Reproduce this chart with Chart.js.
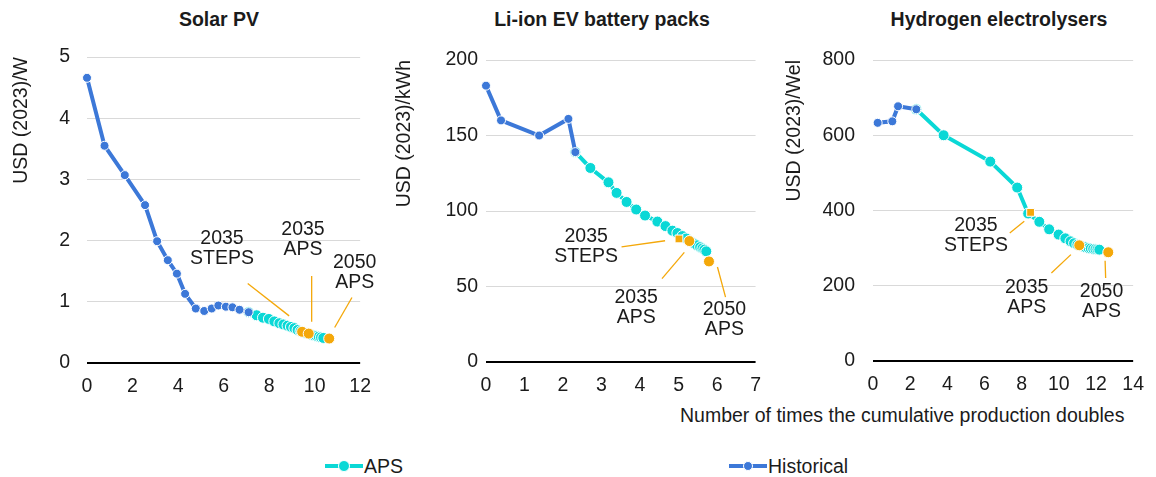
<!DOCTYPE html>
<html>
<head>
<meta charset="utf-8">
<script src="https://cdn.jsdelivr.net/npm/chart.js@4.4.1/dist/chart.umd.min.js"></script>
<style>
  body { margin: 0; background: #fff; width: 1156px; height: 477px; overflow: hidden; position: relative;
         font-family: "Liberation Sans", Arial, sans-serif; color: #1b1b1b; }
  canvas { position: absolute; top: 0; }
  .ttl { position: absolute; top: 8px; transform: translateX(-50%); font-weight: bold; font-size: 19.5px;
         line-height: 23px; white-space: nowrap; }
  .xttl { position: absolute; left: 680px; top: 404px; font-size: 19.5px; line-height: 23px; white-space: nowrap; }
  .lg { position: absolute; top: 455px; height: 23px; font-size: 19.5px; line-height: 23px; white-space: nowrap; }
  .lg .sym { position: absolute; left: 0; top: 9px; width: 38px; height: 4px; }
  .lg .dot { position: absolute; border-radius: 50%; border: 1px solid #fff; }
  .lg span { position: absolute; top: 0; }
</style>
</head>
<body>
<div class="ttl" style="left:219px">Solar PV</div>
<div class="ttl" style="left:602px">Li-ion EV battery packs</div>
<div class="ttl" style="left:999px">Hydrogen electrolysers</div>

<canvas id="solarChart" width="383" height="400" style="left:0px"></canvas>
<canvas id="batteryChart" width="390" height="400" style="left:383px"></canvas>
<canvas id="hydrogenChart" width="383" height="400" style="left:773px"></canvas>

<div class="xttl">Number of times the cumulative production doubles</div>

<div class="lg" style="left:325px">
  <div class="sym" style="background:#0ad8d6"></div>
  <div class="dot" style="background:#0ad8d6;width:10px;height:10px;left:13px;top:5px"></div>
  <span style="left:39px">APS</span>
</div>
<div class="lg" style="left:729px">
  <div class="sym" style="background:#3c78d8"></div>
  <div class="dot" style="background:#3c78d8;width:8px;height:8px;left:14px;top:6px"></div>
  <span style="left:39px">Historical</span>
</div>

<script>
// Solar PV, USD (2023)/W
const solarHistX = [0, 0.77, 1.66, 2.55, 3.08, 3.55, 3.95, 4.31, 4.78, 5.15, 5.48, 5.77, 6.10, 6.39, 6.70, 7.10];
const solarHistY = [4.66, 3.55, 3.07, 2.58, 1.99, 1.68, 1.46, 1.13, 0.89, 0.85, 0.89, 0.94, 0.92, 0.91, 0.87, 0.83];
const solarApsX = [7.10, 7.45, 7.73, 7.99, 8.23, 8.45, 8.63, 8.81, 8.96, 9.11, 9.25, 9.38, 9.50, 9.62, 9.74, 9.86, 9.97, 10.08, 10.18, 10.28, 10.38];
const solarApsY = [0.83, 0.78, 0.74, 0.72, 0.68, 0.65, 0.63, 0.61, 0.59, 0.57, 0.54, 0.52, 0.50, 0.49, 0.48, 0.46, 0.45, 0.44, 0.43, 0.42, 0.41];
const solarMarkX = [9.45, 9.74, 10.64];
const solarMarkY = [0.51, 0.48, 0.40];

// Li-ion EV battery packs, USD (2023)/kWh
const batHistX = [0, 0.39, 1.38, 2.14, 2.32];
const batHistY = [183, 160, 150, 161, 139];
const batApsX = [2.32, 2.71, 3.18, 3.39, 3.65, 3.90, 4.13, 4.45, 4.66, 4.84, 4.97, 5.10, 5.20, 5.30, 5.40, 5.48, 5.56, 5.62, 5.67, 5.72];
const batApsY = [139, 128.5, 119, 112, 106, 101, 97, 93, 90, 87, 85.4, 83.4, 81.8, 80.1, 78.5, 77.3, 76.1, 75.2, 74.4, 73.3];
const batMarkX = [5.01, 5.28, 5.79];
const batMarkY = [81.5, 80.1, 66.6];

// Hydrogen electrolysers, USD (2023)/Wel
const h2HistX = [0.25, 1.04, 1.35, 2.33];
const h2HistY = [633, 637, 677, 669];
const h2ApsX = [2.33, 3.80, 6.31, 7.76, 8.35, 8.95, 9.48, 9.99, 10.35, 10.63, 10.82, 11.0, 11.15, 11.3, 11.45, 11.6, 11.72, 11.85, 11.97, 12.08, 12.18];
const h2ApsY = [669, 600, 530, 461, 392, 370, 350, 336, 326, 318, 313, 309, 306, 304, 302, 300, 299, 298, 297, 296.5, 296];
const h2MarkX = [8.48, 11.1, 12.66];
const h2MarkY = [395, 307.5, 289];

const markLabels = [['2035', 'STEPS'], ['2035', 'APS'], ['2050', 'APS']];

const BLUE = '#3c78d8';
const CYAN = '#0ad8d6';
const ORANGE = '#f4a80a';
const TEXT = '#1b1b1b';
const FONT = { family: '"Liberation Sans", Arial, sans-serif', size: 19.5 };

function pairs(xs, ys) {
    return xs.map((x, i) => ({ x: x, y: ys[i] }));
}

// labels with orange leader lines, placed in data units
function notesPlugin(notes) {
    return {
        id: 'leaderNotes',
        afterDatasetsDraw(chart) {
            const { ctx, scales: { x, y } } = chart;
            ctx.save();
            notes.forEach((n, i) => {
                ctx.strokeStyle = ORANGE;
                ctx.lineWidth = 1.3;
                ctx.beginPath();
                ctx.moveTo(x.getPixelForValue(n.from[0]), y.getPixelForValue(n.from[1]));
                ctx.lineTo(x.getPixelForValue(n.to[0]), y.getPixelForValue(n.to[1]));
                ctx.stroke();

                const lines = markLabels[i];
                const px = x.getPixelForValue(n.at[0]);
                const py = y.getPixelForValue(n.at[1]);
                ctx.fillStyle = TEXT;
                ctx.font = FONT.size + 'px ' + FONT.family;
                ctx.textAlign = 'center';
                ctx.textBaseline = 'middle';
                lines.forEach((t, k) => ctx.fillText(t, px, py + (k - (lines.length - 1) / 2) * 20));
            });
            ctx.restore();
        }
    };
}

function createChart(id, cfg) {
    return new Chart(document.getElementById(id), {
        type: 'line',
        data: {
            datasets: [{
                label: 'APS',
                data: pairs(cfg.apsX, cfg.apsY),
                borderColor: CYAN,
                backgroundColor: CYAN,
                borderWidth: 4,
                pointRadius: 5.5,
                pointBorderColor: '#fff',
                pointBorderWidth: 1,
                clip: false,
                order: 2
            }, {
                label: 'Historical',
                data: pairs(cfg.histX, cfg.histY),
                borderColor: BLUE,
                backgroundColor: BLUE,
                borderWidth: 4,
                pointRadius: 4.5,
                pointBorderColor: '#fff',
                pointBorderWidth: 1,
                clip: false,
                order: 1
            }, {
                label: 'Milestones',
                data: pairs(cfg.markX, cfg.markY),
                showLine: false,
                backgroundColor: ORANGE,
                pointRadius: 5.5,
                pointStyle: cfg.markStyle,
                pointBorderColor: '#fff',
                pointBorderWidth: 1,
                clip: false,
                order: 0
            }]
        },
        options: {
            responsive: false,
            animation: false,
            layout: { padding: { top: cfg.top, right: cfg.right, left: 0, bottom: 0 } },
            plugins: { legend: { display: false }, tooltip: { enabled: false } },
            scales: {
                x: {
                    type: 'linear',
                    min: cfg.xRange[0], max: cfg.xRange[1],
                    grid: { display: false, drawTicks: false },
                    border: { display: false },
                    ticks: { stepSize: cfg.xStep, padding: 12, color: TEXT, font: FONT },
                    afterFit: s => { s.height = cfg.xH; }
                },
                y: {
                    min: cfg.yRange[0], max: cfg.yRange[1],
                    grid: {
                        drawTicks: false,
                        color: c => c.tick.value === 0 ? '#000' : '#d9d9d9',
                        lineWidth: c => c.tick.value === 0 ? 2 : 1
                    },
                    border: { display: false },
                    ticks: { stepSize: cfg.yStep, padding: cfg.tickPad, color: TEXT, font: FONT },
                    title: { display: true, text: cfg.yTitle, align: 'end', color: TEXT, font: FONT, padding: { top: 10, bottom: 0 } },
                    afterFit: s => { s.width = cfg.axisW; }
                }
            }
        },
        plugins: [notesPlugin(cfg.notes)]
    });
}

createChart('solarChart', {
    histX: solarHistX, histY: solarHistY, apsX: solarApsX, apsY: solarApsY,
    markX: solarMarkX, markY: solarMarkY, markStyle: ['circle', 'circle', 'circle'],
    xRange: [0, 12], xStep: 2, yRange: [0, 5], yStep: 1,
    yTitle: 'USD (2023)/W',
    top: 57, right: 16, xH: 37, axisW: 87, tickPad: 17,
    notes: [
        { at: [5.93, 1.87], from: [7.06, 1.30], to: [8.88, 0.77] },
        { at: [9.49, 2.02], from: [9.87, 1.42], to: [9.87, 0.675] },
        { at: [11.76, 1.47], from: [11.64, 1.07], to: [10.88, 0.58] }
    ]
});

createChart('batteryChart', {
    histX: batHistX, histY: batHistY, apsX: batApsX, apsY: batApsY,
    markX: batMarkX, markY: batMarkY, markStyle: ['rect', 'circle', 'circle'],
    xRange: [0, 7], xStep: 1, yRange: [0, 200], yStep: 50,
    yTitle: 'USD (2023)/kWh',
    top: 60, right: 16, xH: 38, axisW: 103, tickPad: 8,
    notes: [
        { at: [2.60, 76.2], from: [3.52, 76.2], to: [4.65, 80.3] },
        { at: [3.90, 36.1], from: [4.57, 55.2], to: [5.15, 72.6] },
        { at: [6.19, 28], from: [6.01, 62.9], to: [6.22, 43] }
    ]
});

createChart('hydrogenChart', {
    histX: h2HistX, histY: h2HistY, apsX: h2ApsX, apsY: h2ApsY,
    markX: h2MarkX, markY: h2MarkY, markStyle: ['rect', 'circle', 'circle'],
    xRange: [0, 14], xStep: 2, yRange: [0, 800], yStep: 200,
    yTitle: 'USD (2023)/Wel',
    top: 60, right: 14, xH: 39, axisW: 100, tickPad: 18,
    notes: [
        { at: [5.54, 334], from: [7.36, 340.5], to: [8.14, 371.5] },
        { at: [8.27, 169], from: [9.6, 234], to: [10.65, 282.7] },
        { at: [12.30, 157], from: [12.49, 266.7], to: [12.52, 220.5] }
    ]
});
</script>
</body>
</html>
